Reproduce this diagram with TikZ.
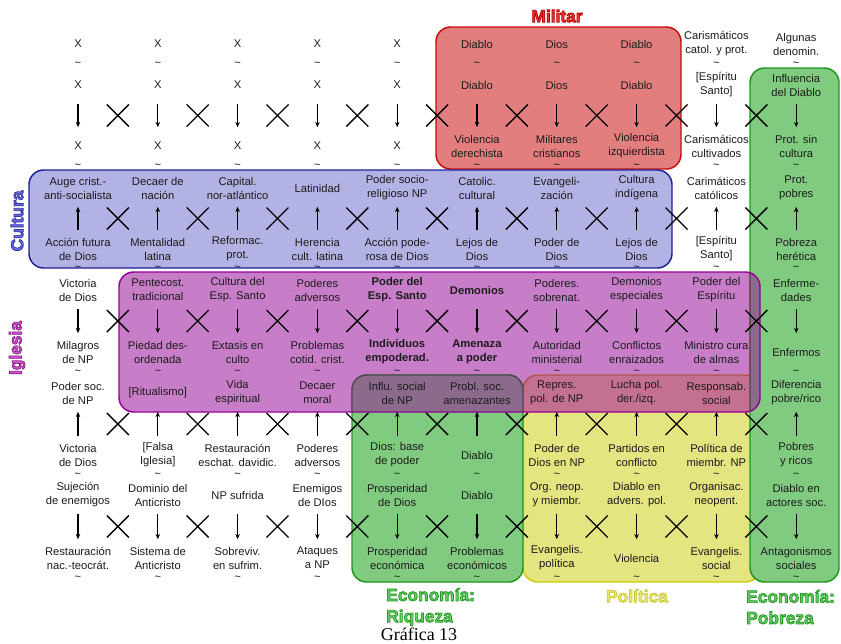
\documentclass[tikz,border=0pt]{standalone}
\usepackage{fontspec}
\setmainfont{Liberation Sans}
\newfontfamily\captionserif{Liberation Serif}
\usetikzlibrary{arrows.meta,shapes.misc}

% fills and outlines of the thematic fields
\definecolor{milfill}{RGB}{226,126,126}
\definecolor{milline}{RGB}{200,10,10}
\definecolor{miltag}{RGB}{235,55,55}
\definecolor{culfill}{RGB}{178,178,228}
\definecolor{culline}{RGB}{30,30,150}
\definecolor{cultag}{RGB}{105,105,225}
\definecolor{iglfill}{RGB}{200,125,200}
\definecolor{iglline}{RGB}{150,0,150}
\definecolor{igltag}{RGB}{200,95,200}
\definecolor{ecofill}{RGB}{128,203,128}
\definecolor{ecoline}{RGB}{30,150,30}
\definecolor{ecotag}{RGB}{100,205,100}
\definecolor{polfill}{RGB}{228,228,128}
\definecolor{polline}{RGB}{205,205,0}
\definecolor{poltag}{RGB}{232,232,110}
\definecolor{mixgreen}{RGB}{139,106,139}
\definecolor{mixgreenline}{RGB}{85,70,85}
\definecolor{mixyellow}{RGB}{196,112,144}
\definecolor{mixyellowline}{RGB}{175,75,100}
\definecolor{txt}{RGB}{28,28,28}

\tikzset{
  lbl/.style={align=center, inner sep=0pt, minimum height=21pt, text=txt,
    font=\fontsize{8.4}{10.5}\selectfont},
  tld/.style={inner sep=0pt, text=txt, font=\fontsize{8.4}{10.5}\selectfont},
  xmark/.style={cross out, draw=black, line width=1pt, inner sep=0pt, minimum size=15.5pt},
  arr/.style={draw=black, line width=0.9pt, -{Stealth[length=4pt,width=3.4pt]},
    shorten <=3.4pt, shorten >=3.4pt},
  field/.style={line width=1.1pt, rounded corners=11pt},
  tag/.style={font=\bfseries\fontsize{13}{16}\selectfont, inner sep=0pt}
}

% field titles: glyphs filled in the title colour and stroked in a darker one
\newcommand\outlined[2]{%
  \special{pdf:literal direct 2 Tr 0.55 w #1 RG}#2\special{pdf:literal direct 0 Tr}}

% one column of eleven statements, stacked from top to bottom
\newcommand\placecol[3]{%
  \foreach \txt [count=\k] in {#3} {
    \pgfmathsetmacro\yy{{44,85,146,188,249,290,352,393,455,495,558}[\k-1]}
    \node[lbl] (n#1-\k) at (#2,\yy) {\txt};
  }%
}

\begin{document}
\begin{tikzpicture}[x=0.75pt,y=-0.75pt]
\useasboundingbox (0,0) rectangle (841,643);

% ---- thematic fields ----
\draw[field, draw=milline, fill=milfill] (436,27) rectangle (681,169);
\draw[field, draw=culline, fill=culfill] (29,170) rectangle (672,268);
\fill[field, iglfill] (119,272) rectangle (760,412);
\draw[field, draw=polline, fill=polfill] (523,375) rectangle (760,582);
\draw[field, draw=ecoline, fill=ecofill] (352,375) rectangle (523,582);
\draw[field, draw=ecoline, fill=ecofill] (750,68) rectangle (839,582);
% where the church field overlaps the economy and politics fields
\begin{scope}
  \clip[rounded corners=11pt] (119,272) rectangle (760,412);
  \draw[field, draw=mixyellowline, fill=mixyellow] (523,375) rectangle (760,582);
  \draw[field, draw=mixgreenline, fill=mixgreen] (352,375) rectangle (523,582);
  \draw[field, draw=mixgreenline, fill=mixgreen] (750,68) rectangle (839,582);
\end{scope}
\draw[field, draw=iglline] (119,272) rectangle (760,412);

% ---- statements ----
\placecol{1}{78}{X, X, X, {Auge crist.-\\anti-socialista}, {Acción futura\\de Dios},
  {Victoria\\de Dios}, {Milagros\\de NP}, {Poder soc.\\de NP}, {Victoria\\de Dios},
  {Sujeción\\de enemigos}, {Restauración\\nac.-teocrát.}}
\placecol{2}{157.8}{X, X, X, {Decaer de\\nación}, {Mentalidad\\latina},
  {Pentecost.\\tradicional}, {Piedad des-\\ordenada}, {[Ritualismo]}, {[Falsa\\Iglesia]},
  {Dominio del\\Anticristo}, {Sistema de\\Anticristo}}
\placecol{3}{237.6}{X, X, X, {Capital.\\nor-atlántico}, {Reformac.\\prot.},
  {Cultura del\\Esp. Santo}, {Extasis en\\culto}, {Vida\\espiritual},
  {Restauración\\eschat. davidic.}, {NP sufrida}, {Sobreviv.\\en sufrim.}}
\placecol{4}{317.4}{X, X, X, {Latinidad}, {Herencia\\cult. latina},
  {Poderes\\adversos}, {Problemas\\cotid. crist.}, {Decaer\\moral}, {Poderes\\adversos},
  {Enemigos\\de DIos}, {Ataques\\a NP}}
\placecol{5}{397.2}{X, X, X, {Poder socio-\\religioso NP}, {Acción pode-\\rosa de Dios},
  {\textbf{Poder del}\\\textbf{Esp. Santo}}, {\textbf{Individuos}\\\textbf{empoderad.}},
  {Influ. social\\de NP}, {Dios: base\\de poder}, {Prosperidad\\de Dios}, {Prosperidad\\económica}}
\placecol{6}{477}{Diablo, Diablo, {Violencia\\derechista}, {Catolic.\\cultural}, {Lejos de\\Dios},
  {\textbf{Demonios}}, {\textbf{Amenaza}\\\textbf{a poder}}, {Probl. soc.\\amenazantes},
  Diablo, Diablo, {Problemas\\económicos}}
\placecol{7}{556.8}{Dios, Dios, {Militares\\cristianos}, {Evangeli-\\zación}, {Poder de\\Dios},
  {Poderes.\\sobrenat.}, {Autoridad\\ministerial}, {Repres.\\pol. de NP}, {Poder de\\Dios en NP},
  {Org. neop.\\y miembr.}, {Evangelis.\\política}}
\placecol{8}{636.6}{Diablo, Diablo, {Violencia\\izquierdista}, {Cultura\\indígena}, {Lejos de\\Dios},
  {Demonios\\especiales}, {Conflictos\\enraizados}, {Lucha pol.\\der./izq.},
  {Partidos en\\conflicto}, {Diablo en\\advers. pol.}, {Violencia}}
\placecol{9}{716.4}{{Carismáticos\\catol. y prot.}, {[Espíritu\\Santo]}, {Carismáticos\\cultivados},
  {Carimáticos\\católicos}, {[Espíritu\\Santo]}, {Poder del\\Espíritu}, {Ministro cura\\de almas},
  {Responsab.\\social}, {Política de\\miembr. NP}, {Organisac.\\neopent.}, {Evangelis.\\social}}
\placecol{10}{796.2}{{Algunas\\denomin.}, {Influencia\\del Diablo}, {Prot. sin\\cultura},
  {Prot.\\pobres}, {Pobreza\\herética}, {Enferme-\\dades}, {Enfermos}, {Diferencia\\pobre/rico},
  {Pobres\\y ricos}, {Diablo en\\actores soc.}, {Antagonismos\\sociales}}

% ---- equivalence marks between linked statements ----
\foreach \i in {1,...,10} {
  \pgfmathsetmacro\cx{78+79.8*(\i-1)}
  \foreach \m/\ty in {1/64,2/166,3/268,4/372,5/475,6/578}
    \node[tld] (t\i-\m) at (\cx,\ty) {\textasciitilde};
}

% ---- causal arrows in each column ----
\foreach \i in {1,...,10} {
  \draw[arr] (n\i-2) -- (n\i-3);
  \draw[arr] (n\i-5) -- (n\i-4);
  \draw[arr] (n\i-6) -- (n\i-7);
  \draw[arr] (n\i-9) -- (n\i-8);
  \draw[arr] (n\i-10) -- (n\i-11);
}

% ---- crosses between neighbouring columns ----
\foreach \r/\ry in {1/115.5,2/218.5,3/321,4/424,5/526.5} {
  \foreach \j in {1,...,9} {
    \pgfmathsetmacro\cx{78+79.8*(\j-1)+39.9}
    \node[xmark] (x\r-\j) at (\cx,\ry) {};
  }
}

% ---- field titles and caption ----
\node[tag, text=miltag] (tmil) at (557,16) {\outlined{0.72 0 0}{Militar}};
\node[tag, text=cultag, rotate=90] (tcul) at (17,221) {\outlined{0.2 0.2 0.65}{Cultura}};
\node[tag, text=igltag, rotate=90] (tigl) at (17,348) {\outlined{0.55 0.1 0.55}{Iglesia}};
\node[tag, text=ecotag, align=left, anchor=west] (trich) at (386,607)
  {\outlined{0.15 0.6 0.15}{Economía:}\\\outlined{0.15 0.6 0.15}{Riqueza}};
\node[tag, text=poltag] (tpol) at (637,596) {\outlined{0.78 0.78 0.2}{Política}};
\node[tag, text=ecotag, align=left, anchor=west] (tpoor) at (746,607)
  {\outlined{0.15 0.6 0.15}{Economía:}\\\outlined{0.15 0.6 0.15}{Pobreza}};
\node[inner sep=0pt, text=black, font=\captionserif\fontsize{13.5}{16}\selectfont] (cap) at (419,634) {Gráfica 13};
\end{tikzpicture}
\end{document}
